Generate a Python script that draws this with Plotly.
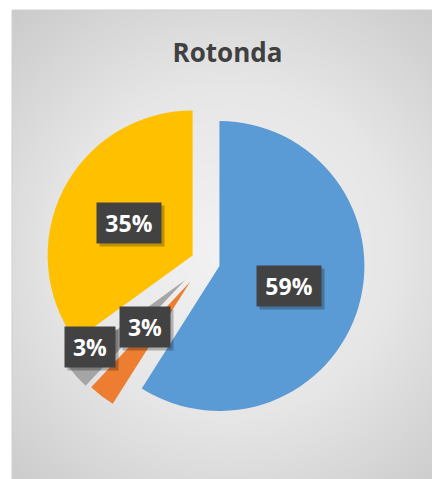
import math
import numpy as np
import plotly.graph_objects as go

# ---- data ----
categories = ["Categoria 1", "Categoria 2", "Categoria 3", "Categoria 4"]
values = [59, 3, 3, 35]

# ---- style ----
slice_colors = ["#5B9BD5", "#ED7D31", "#A5A5A5", "#FFC000"]
pulls = [0.10, 0.17, 0.19, 0.10]
label_radius = [0.50, 0.44, 0.80, 0.49]      # distance from slice tip, fraction of radius
label_angle_shift = [0.0, 7.0, 6.0, 0.0]     # degrees, clockwise

W, H = 432, 479
pie_dom_x = [0.0764, 0.875]
pie_dom_y = [0.0929, 0.8132]
frame_x0, frame_y0 = 12, 10

fig = go.Figure()

# soft radial background inside the chart frame
gx = np.linspace(frame_x0, W, 90)
gy = np.linspace(frame_y0, H, 90)
XX, YY = np.meshgrid(gx, gy)
dist = np.sqrt((XX - 228) ** 2 + (YY - 250) ** 2)
shade = np.clip(dist / 330.0, 0, 1)
fig.add_trace(go.Heatmap(
    x=gx, y=gy, z=shade, zmin=0, zmax=1, zsmooth="best",
    colorscale=[[0, "#f2f2f2"], [0.5, "#e6e6e6"], [1, "#c9c9c9"]],
    showscale=False, hoverinfo="skip", xaxis="x", yaxis="y",
))

fig.add_trace(go.Pie(
    labels=categories, values=values, sort=False,
    direction="clockwise", rotation=0, pull=pulls,
    marker=dict(colors=slice_colors, line=dict(width=0)),
    textinfo="none", showlegend=False,
    domain=dict(x=pie_dom_x, y=pie_dom_y),
))

# data labels placed from the same geometry plotly uses for the pie
box_w = (pie_dom_x[1] - pie_dom_x[0]) * W
box_h = (pie_dom_y[1] - pie_dom_y[0]) * H
r = min(box_w, box_h) / (2 * (1 + max(pulls)))
cx = (pie_dom_x[0] + pie_dom_x[1]) / 2 * W
cy = (1 - (pie_dom_y[0] + pie_dom_y[1]) / 2) * H

total = sum(values)
cum = 0.0
annotations = []
for i, v in enumerate(values):
    frac = v / total
    mid = math.radians((cum + frac / 2) * 360)
    cum += frac
    tx = cx + pulls[i] * r * math.sin(mid)
    ty = cy - pulls[i] * r * math.cos(mid)
    la = mid + math.radians(label_angle_shift[i])
    px = tx + label_radius[i] * r * math.sin(la)
    py = ty - label_radius[i] * r * math.cos(la)
    pct = f"{frac * 100:.0f}%"
    lw = 14 * len(pct) + 14
    common = dict(xref="paper", yref="paper", xanchor="center", yanchor="middle",
                  showarrow=False, borderpad=4, width=lw, height=32)
    # drop shadow behind the label box
    annotations.append(dict(
        x=(px + 3) / W, y=1 - (py + 3) / H, text=" ",
        font=dict(family="Open Sans", size=23, color="rgba(0,0,0,0)"),
        bgcolor="rgba(0,0,0,0.25)", **common))
    annotations.append(dict(
        x=px / W, y=1 - py / H, text=f"<b>{pct}</b>",
        font=dict(family="Open Sans", size=23, color="#ffffff"),
        bgcolor="#424242", **common))

fig.update_layout(
    width=W, height=H,
    margin=dict(l=0, r=0, t=0, b=0),
    paper_bgcolor="#ffffff", plot_bgcolor="#ffffff",
    title=dict(text="<b>Rotonda</b>", x=227.5 / W, y=1 - 53 / H,
               xref="paper", yref="paper", xanchor="center", yanchor="middle",
               font=dict(family="Open Sans", size=26, color="#404040")),
    xaxis=dict(domain=[frame_x0 / W, 1], range=[frame_x0, W], visible=False, fixedrange=True),
    yaxis=dict(domain=[0, 1 - frame_y0 / H], range=[H, frame_y0], visible=False, fixedrange=True),
    annotations=annotations,
    shapes=[dict(type="rect", xref="paper", yref="paper",
                 x0=frame_x0 / W, x1=1.01, y0=-0.01, y1=1 - frame_y0 / H,
                 line=dict(color="#cfcfcf", width=1), fillcolor="rgba(0,0,0,0)")],
    showlegend=False,
)

fig.write_html("out.html")
